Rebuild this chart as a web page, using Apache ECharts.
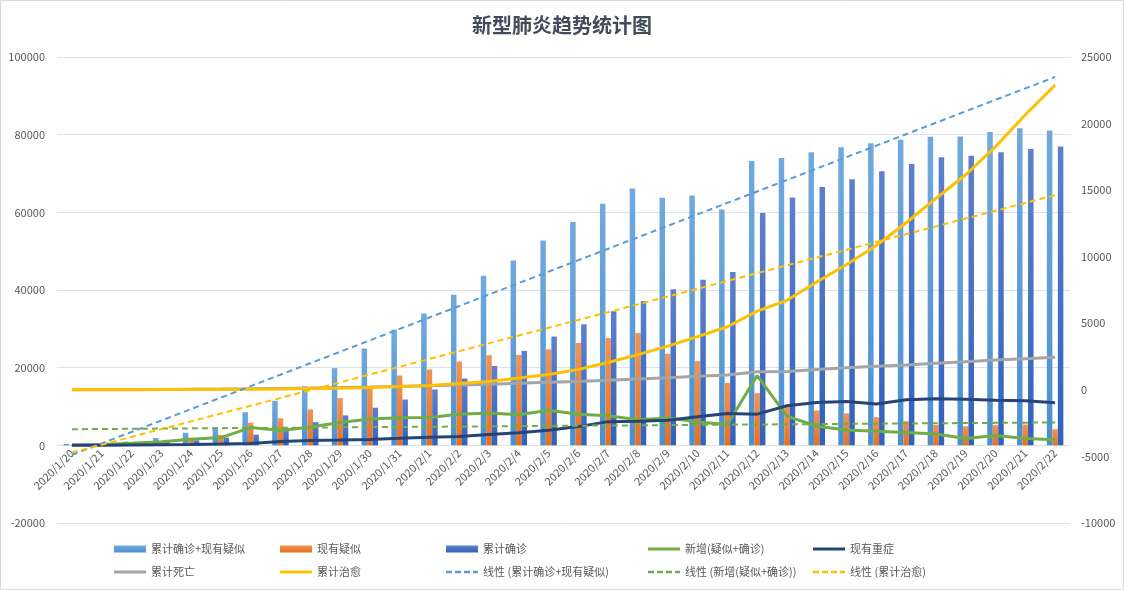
<!DOCTYPE html>
<html>
<head>
<meta charset="utf-8">
<script src="https://cdn.jsdelivr.net/npm/echarts@6/dist/echarts.min.js"></script>
<style>html,body{margin:0;padding:0;background:#fff;}#c{width:1124px;height:590px;}</style>
</head>
<body>
<div id="c"></div>
<script>
var categories = ['2020/1/20','2020/1/21','2020/1/22','2020/1/23','2020/1/24','2020/1/25','2020/1/26','2020/1/27','2020/1/28','2020/1/29','2020/1/30','2020/1/31','2020/2/1','2020/2/2','2020/2/3','2020/2/4','2020/2/5','2020/2/6','2020/2/7','2020/2/8','2020/2/9','2020/2/10','2020/2/11','2020/2/12','2020/2/13','2020/2/14','2020/2/15','2020/2/16','2020/2/17','2020/2/18','2020/2/19','2020/2/20','2020/2/21','2020/2/22'];
var confirmedPlusSuspected = [345,477,964,1902,3252,4659,8538,11488,15213,19878,24930,29779,33924,38763,43652,47584,52720,57520,62203,66140,63760,64313,60720,73239,73960,75461,76728,77812,78678,79433,79498,80671,81653,81084];
var suspected = [54,37,393,1072,1965,2684,5794,6973,9239,12167,15238,17988,19544,21558,23214,23260,24702,26359,27657,28942,23589,21675,16067,13435,10109,8969,8228,7264,6242,5248,4922,5206,5365,4148];
var confirmed = [291,440,571,830,1287,1975,2744,4515,5974,7711,9692,11791,14380,17205,20438,24324,28018,31161,34546,37198,40171,42638,44653,59804,63851,66492,68500,70548,72436,74185,74576,75465,76288,76936];
var newCases = [104,200,524,939,1562,1997,4575,3848,4707,5885,6793,7118,7152,8002,8307,7858,9022,7976,7613,6572,7070,6014,5357,17959,7540,4918,3927,3611,3318,2934,1750,2503,1758,1450];
var severe = [0,0,95,177,237,324,461,976,1239,1370,1527,1795,2110,2296,2788,3219,3859,4821,6101,6188,6484,7333,8204,8030,10204,11053,11272,10644,11741,11977,11864,11633,11477,10968];
var deaths = [6,9,17,25,41,56,80,106,132,170,213,259,304,361,425,490,563,636,722,811,908,1016,1113,1367,1380,1523,1665,1770,1868,2004,2118,2236,2345,2442];
var cured = [25,25,28,34,38,49,51,60,103,124,171,243,328,475,632,892,1153,1540,2050,2649,3281,3996,4740,5911,6723,8096,9419,10844,12552,14376,16155,18264,20659,22888];
var leftTicks = {min:-20000, max:100000, interval:20000};
var rightTicks = {min:-10000, max:25000, interval:5000};

// Excel-style linear trendline (least squares over x = 1..n)
function linTrend(arr){
  var n = arr.length, sx=0, sy=0, sxx=0, sxy=0;
  for (var i=0;i<n;i++){ var x=i+1; sx+=x; sy+=arr[i]; sxx+=x*x; sxy+=x*arr[i]; }
  var b = (n*sxy - sx*sy)/(n*sxx - sx*sx);
  var a = (sy - b*sx)/n;
  return arr.map(function(_,i){ return a + b*(i+1); });
}

var FONT = '"Noto Sans CJK SC", "Noto Sans", sans-serif';
var TXT = '#595959';
function grad(top, bottom){
  return new echarts.graphic.LinearGradient(0,0,0,1,[{offset:0,color:top},{offset:1,color:bottom}]);
}
var GRID_TOP = 57, GRID_BOTTOM = 67, H = 590;
var plotH = H - GRID_TOP - GRID_BOTTOM;
var zeroOffset = -plotH * (0 - leftTicks.min) / (leftTicks.max - leftTicks.min);

var ICON_SOLID = 'path://M0,0h32v3h-32z';
var ICON_DASH = 'path://M0,0h6v2.4h-6zM9,0h6v2.4h-6zM18,0h6v2.4h-6zM27,0h5v2.4h-5z';
var ICON_BAR = 'rect';

var chart = echarts.init(document.getElementById('c'), null, {renderer:'canvas'});
var lw = 3;
function legendCol(left, items){
  return {left:left, top:542, padding:0, orient:'vertical', itemWidth:32, itemHeight:7, itemGap:9,
    symbolKeepAspect:true, itemStyle:{borderWidth:0},
    textStyle:{fontSize:11, color:TXT, fontFamily:FONT, lineHeight:14}, data:items};
}
var option = {
  animation:false,
  backgroundColor:'#fff',
  textStyle:{fontFamily:FONT},
  title:{text:'新型肺炎趋势统计图', left:'center', top:10, textStyle:{fontFamily:FONT, fontSize:20, fontWeight:'bold', color:'#414b5a'}},
  graphic:[{type:'rect', shape:{x:0.5,y:0.5,width:1123,height:589}, style:{fill:'none', stroke:'#d9d9d9', lineWidth:1}, silent:true, z:-1}],
  grid:{left:57, right:54, top:GRID_TOP, bottom:GRID_BOTTOM, containLabel:false},
  legend:[
    legendCol(114, [{name:'累计确诊+现有疑似', icon:ICON_BAR},{name:'累计死亡', icon:ICON_SOLID}]),
    legendCol(280, [{name:'现有疑似', icon:ICON_BAR},{name:'累计治愈', icon:ICON_SOLID}]),
    legendCol(446, [{name:'累计确诊', icon:ICON_BAR},{name:'线性 (累计确诊+现有疑似)', icon:ICON_DASH}]),
    legendCol(648, [{name:'新增(疑似+确诊)', icon:ICON_SOLID},{name:'线性 (新增(疑似+确诊))', icon:ICON_DASH}]),
    legendCol(813, [{name:'现有重症', icon:ICON_SOLID},{name:'线性 (累计治愈)', icon:ICON_DASH}])
  ],
  xAxis:{
    type:'category', data:categories, boundaryGap:true, offset:zeroOffset,
    axisLine:{show:true, onZero:false, lineStyle:{color:'#dde1e8'}},
    axisTick:{show:false},
    axisLabel:{interval:0, rotate:45, fontSize:11, color:TXT, fontFamily:FONT, margin:6},
    splitLine:{show:false}
  },
  yAxis:[
    {type:'value', min:leftTicks.min, max:leftTicks.max, interval:leftTicks.interval,
     axisLine:{show:false}, axisTick:{show:false},
     axisLabel:{fontSize:11, color:TXT, fontFamily:FONT, margin:12, formatter:function(v){return String(v);}},
     splitLine:{show:true, lineStyle:{color:'#dde1e8', width:1}}},
    {type:'value', min:rightTicks.min, max:rightTicks.max, interval:rightTicks.interval,
     axisLine:{show:false}, axisTick:{show:false},
     axisLabel:{fontSize:11, color:TXT, fontFamily:FONT, margin:11, formatter:function(v){return String(v);}},
     splitLine:{show:false}}
  ],
  series:[
    {name:'累计确诊+现有疑似', type:'bar', yAxisIndex:0, data:confirmedPlusSuspected, barWidth:5.5, barGap:'0%', itemStyle:{color:grad('#72a9dd','#4a90d2')}, z:2},
    {name:'现有疑似', type:'bar', yAxisIndex:0, data:suspected, barWidth:5.5, barGap:'0%', itemStyle:{color:grad('#f29457','#e86f1c')}, z:2},
    {name:'累计确诊', type:'bar', yAxisIndex:0, data:confirmed, barWidth:5.5, barGap:'0%', itemStyle:{color:grad('#5e80cc','#2f62bd')}, z:2},
    {name:'新增(疑似+确诊)', type:'line', yAxisIndex:0, data:newCases, symbol:'none', lineStyle:{color:'#70ad47', width:lw}, itemStyle:{color:'#70ad47', borderWidth:0}, z:3},
    {name:'现有重症', type:'line', yAxisIndex:0, data:severe, symbol:'none', lineStyle:{color:'#264478', width:lw}, itemStyle:{color:'#264478', borderWidth:0}, z:3},
    {name:'累计死亡', type:'line', yAxisIndex:1, data:deaths, symbol:'none', lineStyle:{color:'#a5a5a5', width:lw}, itemStyle:{color:'#a5a5a5', borderWidth:0}, z:3},
    {name:'累计治愈', type:'line', yAxisIndex:1, data:cured, symbol:'none', lineStyle:{color:'#ffc000', width:lw}, itemStyle:{color:'#ffc000', borderWidth:0}, z:4},
    {name:'线性 (累计确诊+现有疑似)', type:'line', yAxisIndex:0, data:linTrend(confirmedPlusSuspected), symbol:'none', lineStyle:{color:'#5b9bd5', width:2, type:[6,4]}, itemStyle:{color:'#5b9bd5', borderWidth:0}, z:5},
    {name:'线性 (新增(疑似+确诊))', type:'line', yAxisIndex:0, data:linTrend(newCases), symbol:'none', lineStyle:{color:'#70ad47', width:2, type:[6,4]}, itemStyle:{color:'#70ad47', borderWidth:0}, z:5},
    {name:'线性 (累计治愈)', type:'line', yAxisIndex:1, data:linTrend(cured), symbol:'none', lineStyle:{color:'#ffc000', width:2, type:[6,4]}, itemStyle:{color:'#ffc000', borderWidth:0}, z:5}
  ]
};
chart.setOption(option);
</script>
</body>
</html>
